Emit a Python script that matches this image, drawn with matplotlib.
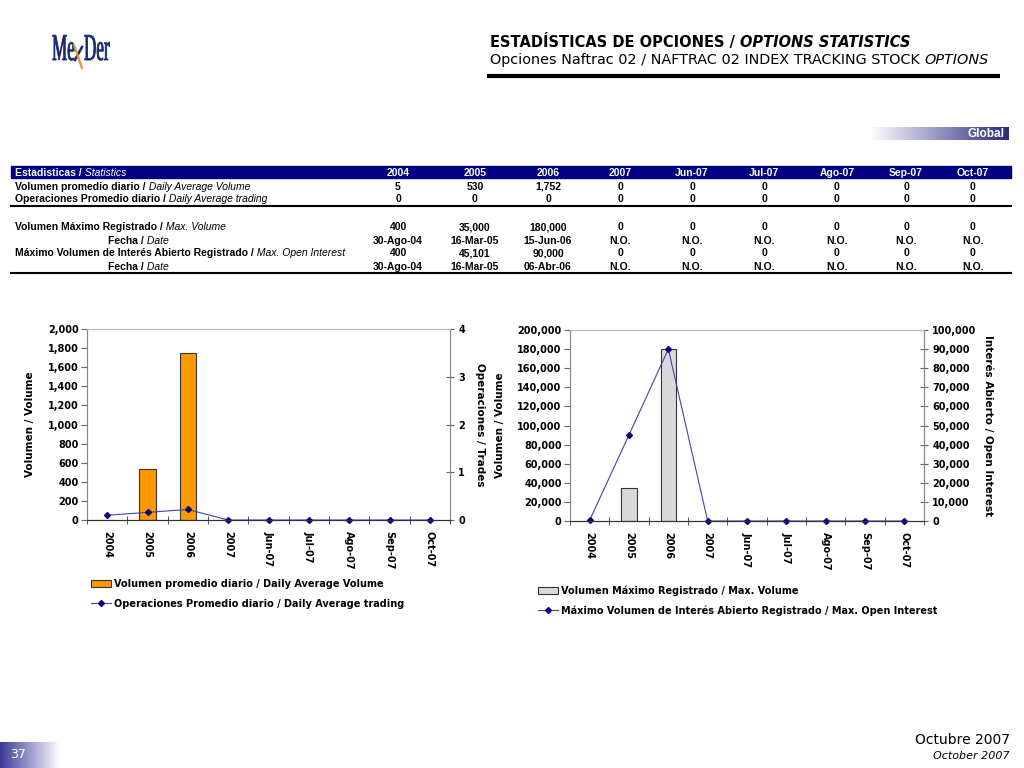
import numpy as np
import matplotlib
matplotlib.use('Agg')
import matplotlib.pyplot as plt
from matplotlib.ticker import FuncFormatter, MultipleLocator
from matplotlib.patches import Rectangle, PathPatch
from matplotlib.textpath import TextPath
from matplotlib.transforms import Affine2D
from matplotlib.font_manager import FontProperties

# Datos de la tabla / gráficas
periodos = ['2004', '2005', '2006', '2007', 'Jun-07', 'Jul-07', 'Ago-07', 'Sep-07', 'Oct-07']
vol_promedio = [5, 530, 1752, 0, 0, 0, 0, 0, 0]
ops_promedio = [0.10, 0.16, 0.22, 0, 0, 0, 0, 0, 0]
vol_maximo = [400, 35000, 180000, 0, 0, 0, 0, 0, 0]
oi_maximo = [400, 45101, 90000, 0, 0, 0, 0, 0, 0]

fila_vol_prom = ['5', '530', '1,752', '0', '0', '0', '0', '0', '0']
fila_ops_prom = ['0', '0', '0', '0', '0', '0', '0', '0', '0']
fila_vol_max = ['400', '35,000', '180,000', '0', '0', '0', '0', '0', '0']
fila_fecha_vol = ['30-Ago-04', '16-Mar-05', '15-Jun-06', 'N.O.', 'N.O.', 'N.O.', 'N.O.', 'N.O.', 'N.O.']
fila_oi_max = ['400', '45,101', '90,000', '0', '0', '0', '0', '0', '0']
fila_fecha_oi = ['30-Ago-04', '16-Mar-05', '06-Abr-06', 'N.O.', 'N.O.', 'N.O.', 'N.O.', 'N.O.', 'N.O.']
encabezados = ['2004', '2005', '2006', '2007', 'Jun-07', 'Jul-07', 'Ago-07', 'Sep-07', 'Oct-07']

NAVY = '#000080'
TS = 7.5  # tamaño de letra de la tabla
fig = plt.figure(figsize=(10.24, 7.68), dpi=100)

# eje de fondo en pixeles para textos y adornos
bg = fig.add_axes([0, 0, 1, 1], zorder=0)
bg.set_xlim(0, 1024)
bg.set_ylim(768, 0)
bg.axis('off')


def dos_partes(x, y, t1, t2, size=TS, color='black', fam='Liberation Sans', w1='bold', w2='normal'):
    a = bg.text(x, y, t1, fontsize=size, color=color, family=fam, weight=w1, va='baseline', ha='left')
    bg.annotate(t2, xy=(1, 0), xycoords=a, va='bottom', ha='left', fontsize=size, color=color,
                family=fam, weight=w2, style='italic')
    return a


# logo (letras angostas)
def letras(txt, x0, base, col):
    tp = TextPath((0, 0), txt, size=38, prop=FontProperties(family='Liberation Serif'))
    tr = Affine2D().scale(0.45, -1).translate(x0, base) + bg.transData
    bg.add_patch(PathPatch(tp, transform=tr, facecolor=col, edgecolor=col, lw=0.6))


letras('Me', 52, 60, '#1a2a6c')
letras('Der', 84, 60, '#1a2a6c')
bg.plot([82, 75], [47, 60], color='#1a2a6c', lw=1.8)
bg.plot([74, 82], [45, 68], color='#d9963a', lw=1.6)

# titulo
dos_partes(490, 47, 'ESTADÍSTICAS DE OPCIONES / ', 'OPTIONS STATISTICS', size=10.5, fam='DejaVu Sans', w2='bold')
dos_partes(490, 64, 'Opciones Naftrac 02 / NAFTRAC 02 INDEX TRACKING STOCK ', 'OPTIONS', size=10.4,
           fam='DejaVu Sans', w1='normal')
bg.plot([487, 1000], [76, 76], color='black', lw=3, solid_capstyle='butt')

# banda "Global"
grad = np.linspace(0, 1, 256).reshape(1, -1)
bg.imshow(grad, extent=(870, 1009, 140, 127), cmap=matplotlib.colors.LinearSegmentedColormap.from_list(
    'g', ['#ffffff', '#2a2a80']), aspect='auto', zorder=1)
bg.text(1005, 134, 'Global', color='white', fontsize=8.5, weight='bold', family='Liberation Sans',
        ha='right', va='center', zorder=2)

# tabla
cols_x = [398, 475, 548, 620, 692, 764, 837, 906, 973]
bg.add_patch(Rectangle((11, 166), 1000, 12, color=NAVY, zorder=1))
dos_partes(15, 176, 'Estadisticas /', ' Statistics', color='white')
for cx, h in zip(cols_x, encabezados):
    bg.text(cx, 176, h, color='white', fontsize=TS, weight='bold', family='Liberation Sans',
            ha='center', va='baseline', zorder=2)

filas = [
    (189.5, ('Volumen promedio diario /', ' Daily Average Volume', 15), fila_vol_prom),
    (201.5, ('Operaciones Promedio diario /', ' Daily Average trading', 15), fila_ops_prom),
    (230.5, ('Volumen Máximo Registrado /', ' Max. Volume', 15), fila_vol_max),
    (243.5, ('Fecha /', ' Date', 108), fila_fecha_vol),
    (256.5, ('Máximo Volumen de Interés Abierto Registrado /', ' Max. Open Interest', 15), fila_oi_max),
    (269.5, ('Fecha /', ' Date', 108), fila_fecha_oi),
]
for y, (b, it, x0), vals in filas:
    dos_partes(x0, y, b, it)
    for cx, v in zip(cols_x, vals):
        bg.text(cx, y, v, fontsize=TS, weight='bold', family='Liberation Sans', ha='center', va='baseline')
bg.plot([11, 1011], [205.5, 205.5], color='black', lw=1.5)
bg.plot([11, 1011], [273, 273], color='black', lw=1.5)

# pie de pagina
grad2 = np.linspace(1, 0, 256).reshape(1, -1)
bg.imshow(grad2, extent=(0, 60, 768, 742), cmap=matplotlib.colors.LinearSegmentedColormap.from_list(
    'g2', ['#ffffff', '#3a3a9a']), aspect='auto', zorder=1)
bg.text(18, 754, '37', color='white', fontsize=9, family='DejaVu Sans', ha='center', va='center', zorder=2)
bg.text(1010, 740, 'Octubre 2007', fontsize=10, family='DejaVu Sans', ha='right', va='center')
bg.text(1010, 756, 'October 2007', fontsize=8, family='DejaVu Sans', style='italic', ha='right', va='center')

FONT = dict(family='DejaVu Sans', weight='bold', size=7)
x = np.arange(len(periodos))
miles = FuncFormatter(lambda v, p: f'{v:,.0f}')


def preparar(ax, ax2):
    ax.set_xlim(-0.5, len(periodos) - 0.5)
    ax.set_xticks(x)
    ax.set_xticklabels(periodos, rotation=-90, **FONT)
    ax.set_xticks(np.arange(-0.5, len(periodos)), minor=True)
    ax.tick_params(axis='x', which='major', length=0, pad=8)
    ax.tick_params(axis='x', which='minor', length=6, direction='inout', color='#333333')
    ax.tick_params(axis='y', length=4, color='#666666', pad=2)
    ax2.tick_params(axis='y', length=6, direction='inout', color='#666666', pad=3)
    for a in (ax, ax2):
        for lab in a.get_yticklabels():
            lab.set_fontproperties(FontProperties(**FONT))
        a.spines['top'].set_color('#bbbbbb')
        a.spines['left'].set_color('#888888')
        a.spines['right'].set_color('#888888')
        a.spines['bottom'].set_color('#333333')


def px_axes(l, t, r, b):
    return fig.add_axes([l / 1024, 1 - b / 768, (r - l) / 1024, (b - t) / 768], zorder=2)


LBL = dict(family='DejaVu Sans', weight='bold', size=7.5)

# grafica izquierda
ax1 = px_axes(87, 329, 450, 520)
barras1 = ax1.bar(x, vol_promedio, width=0.4, color='#FF9900', edgecolor='#333333', lw=0.8)
ax1.set_ylim(0, 2000)
ax1.yaxis.set_major_locator(MultipleLocator(200))
ax1.yaxis.set_major_formatter(miles)
ax1b = ax1.twinx()
linea1, = ax1b.plot(x, ops_promedio, color='#4444aa', lw=0.8, marker='D', ms=3,
                    mfc=NAVY, mec=NAVY, clip_on=False)
ax1b.set_ylim(0, 4)
ax1b.yaxis.set_major_locator(MultipleLocator(1))
preparar(ax1, ax1b)
ax1.set_ylabel('Volumen / Volume', **LBL)
ax1.yaxis.set_label_coords(-0.143, 0.5)
ax1b.set_ylabel('Operaciones / Trades', rotation=270, va='center', **LBL)
ax1b.yaxis.set_label_coords(1.083, 0.5)

fig.legend([barras1, linea1],
           ['Volumen promedio diario / Daily Average Volume',
            'Operaciones Promedio diario / Daily Average trading'],
           loc='upper left', bbox_to_anchor=(91 / 1024, 1 - 579 / 768), frameon=False,
           prop=FontProperties(**FONT), handlelength=2.1, handleheight=0.7,
           handletextpad=0.3, labelspacing=1.0, borderpad=0, borderaxespad=0)

# grafica derecha
ax2 = px_axes(570, 330, 924, 521)
barras2 = ax2.bar(x, vol_maximo, width=0.39, color='#D9D9D9', edgecolor='#333333', lw=0.8)
ax2.set_ylim(0, 200000)
ax2.yaxis.set_major_locator(MultipleLocator(20000))
ax2.yaxis.set_major_formatter(miles)
ax2b = ax2.twinx()
linea2, = ax2b.plot(x, oi_maximo, color='#4444aa', lw=0.8, marker='D', ms=3,
                    mfc=NAVY, mec=NAVY, clip_on=False)
ax2b.set_ylim(0, 100000)
ax2b.yaxis.set_major_locator(MultipleLocator(10000))
ax2b.yaxis.set_major_formatter(miles)
preparar(ax2, ax2b)
ax2.set_ylabel('Volumen / Volume', **LBL)
ax2.yaxis.set_label_coords(-0.184, 0.5)
ax2b.set_ylabel('Interés Abierto / Open Interest', rotation=270, va='center', **LBL)
ax2b.yaxis.set_label_coords(1.181, 0.5)

fig.legend([barras2, linea2],
           ['Volumen Máximo Registrado / Max. Volume',
            'Máximo Volumen de Interés Abierto Registrado / Max. Open Interest'],
           loc='upper left', bbox_to_anchor=(538 / 1024, 1 - 585 / 768), frameon=False,
           prop=FontProperties(**FONT), handlelength=2.1, handleheight=0.7,
           handletextpad=0.3, labelspacing=1.0, borderpad=0, borderaxespad=0)

fig.savefig('out.png', dpi=100)
